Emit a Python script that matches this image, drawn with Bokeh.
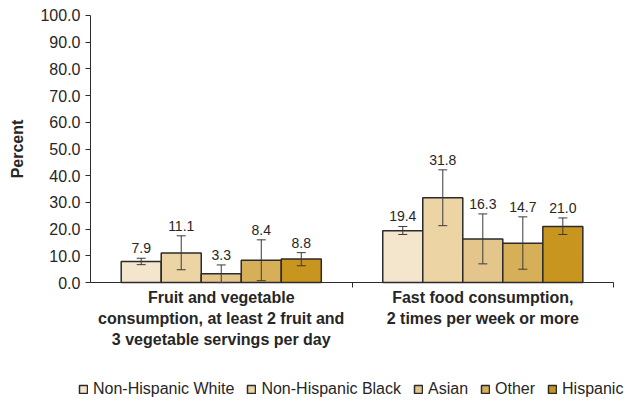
from bokeh.plotting import figure
from bokeh.models import (ColumnDataSource, Range1d, FixedTicker, NumeralTickFormatter,
                          Whisker, TeeHead, Legend, LegendItem)
from bokeh.core.properties import value
from bokeh.embed import file_html
from bokeh.resources import INLINE

# Measures (x axis categories) and population groups
categories = [
    "Fruit and vegetable\nconsumption, at least 2 fruit and\n3 vegetable servings per day",
    "Fast food consumption,\n2 times per week or more",
]
groups = ["Non-Hispanic White", "Non-Hispanic Black", "Asian", "Other", "Hispanic"]

# Percent for each group, one value per measure
nh_white = [7.9, 19.4]
nh_black = [11.1, 31.8]
asian = [3.3, 16.3]
other = [8.4, 14.7]
hispanic = [8.8, 21.0]

# 95% confidence limits
nh_white_low, nh_white_high = [6.7, 18.0], [9.1, 21.0]
nh_black_low, nh_black_high = [4.8, 21.3], [17.5, 42.2]
asian_low, asian_high = [0.0, 7.0], [6.6, 25.7]
other_low, other_high = [0.7, 5.0], [16.0, 24.6]
hispanic_low, hispanic_high = [6.3, 18.0], [11.2, 24.2]

y_ticks = [0, 10, 20, 30, 40, 50, 60, 70, 80, 90, 100]

series = [
    (nh_white, nh_white_low, nh_white_high),
    (nh_black, nh_black_low, nh_black_high),
    (asian, asian_low, asian_high),
    (other, other_low, other_high),
    (hispanic, hispanic_low, hispanic_high),
]
colors = ["#F4E6CC", "#EDD4A5", "#E4C68C", "#D8AF59", "#C8961F"]

FONT = "Liberation Sans"
TEXT = "#262626"
LINE = "#2b2b2b"

# The frame covers the whole canvas so that the axis labels and the legend
# under the category labels are not clipped; both axes are pinned to the origin.
p = figure(width=634, height=402, output_backend="svg", toolbar_location=None,
           x_range=Range1d(-0.344, 2.080), y_range=Range1d(-44.9, 105.6),
           min_border_left=0, min_border_right=0, min_border_top=0,
           min_border_bottom=0)
p.outline_line_color = None
p.xgrid.visible = False
p.ygrid.visible = False

bar_w = 0.153
n = len(groups)
items = []
for gi, (vals, lows, highs) in enumerate(series):
    xs = [ci + 0.5 + (gi - (n - 1) / 2) * bar_w for ci in range(len(categories))]
    src = ColumnDataSource(dict(x=xs, top=vals, lower=lows, upper=highs,
                                label=[f"{v:.1f}" for v in vals]))
    r = p.vbar(x="x", top="top", width=bar_w, source=src, fill_color=colors[gi],
               line_color=LINE, line_width=1.5)
    items.append(LegendItem(label=groups[gi], renderers=[r]))
    w = Whisker(source=src, base="x", lower="lower", upper="upper", level="overlay",
                line_color="#3a3a3a", line_width=1,
                upper_head=TeeHead(size=9, line_color="#3a3a3a", line_width=1),
                lower_head=TeeHead(size=9, line_color="#3a3a3a", line_width=1))
    p.add_layout(w)
    p.text(x="x", y="upper", text="label", source=src, text_align="center",
           text_baseline="bottom", y_offset=-5, text_font_size="14px",
           text_font=value(FONT), text_color=TEXT)

# y axis
ya = p.yaxis[0]
ya.fixed_location = 0
ya.bounds = (0, 100)
ya.ticker = FixedTicker(ticks=y_ticks)
ya.formatter = NumeralTickFormatter(format="0.0")
ya.axis_label = "Percent"
ya.axis_label_text_font = FONT
ya.axis_label_text_font_style = "bold"
ya.axis_label_text_font_size = "16px"
ya.axis_label_text_color = TEXT
ya.axis_label_standoff = 11
ya.major_label_text_font = FONT
ya.major_label_text_font_size = "16px"
ya.major_label_text_color = TEXT
ya.major_label_standoff = 5
ya.major_tick_out = 5
ya.major_tick_in = 0
ya.minor_tick_line_color = None
ya.axis_line_color = LINE
ya.major_tick_line_color = LINE

# x axis: labels at category centres, ticks at category boundaries
xa = p.xaxis[0]
xa.fixed_location = 0
xa.bounds = (0, 2)
xa.ticker = FixedTicker(ticks=[0.5, 1.5], minor_ticks=[1, 2])
xa.major_label_overrides = {0.5: categories[0], 1.5: categories[1]}
xa.major_label_text_font = FONT
xa.major_label_text_font_style = "bold"
xa.major_label_text_font_size = "16px"
xa.major_label_text_color = TEXT
xa.major_label_text_line_height = 1.25
xa.major_label_standoff = 1
xa.major_tick_line_color = None
xa.major_tick_out = 0
xa.major_tick_in = 0
xa.minor_tick_out = 5
xa.minor_tick_in = 0
xa.minor_tick_line_color = LINE
xa.axis_line_color = LINE

legend = Legend(items=items, orientation="horizontal", location=(78, 4),
                glyph_width=10, glyph_height=10, label_standoff=5, spacing=12,
                padding=0, margin=0, label_height=14,
                label_text_font=FONT, label_text_font_size="16px",
                label_text_color=TEXT, border_line_color=None,
                background_fill_alpha=0)
p.add_layout(legend)

open("out.html", "w").write(file_html(p, INLINE))
